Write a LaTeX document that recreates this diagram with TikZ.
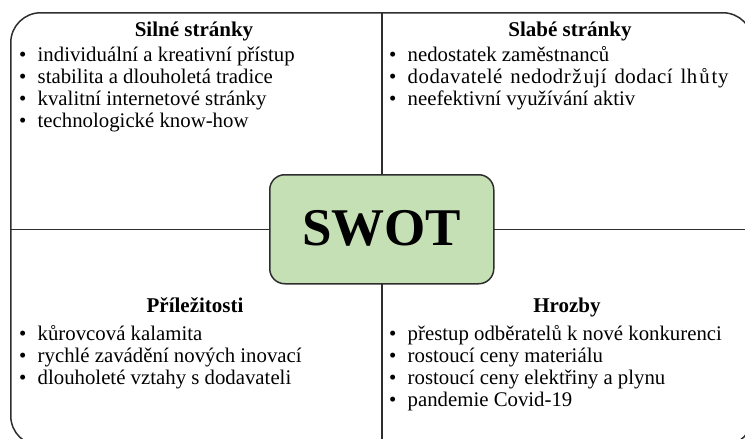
\documentclass[tikz,border=0pt]{standalone}
\usepackage{fontspec}
\setmainfont{Liberation Serif}
\definecolor{linegray}{HTML}{2E2E2E}
\definecolor{swotgreen}{HTML}{C5E0B4}
\newcommand\bulletline[1]{\makebox[18.5pt][l]{•}#1}
\begin{document}
\begin{tikzpicture}[x=1pt,y=-1pt,
  frameline/.style={draw=linegray, line width=1.5pt},
  head/.style={font=\fontsize{21}{22}\selectfont\bfseries, anchor=base, inner sep=0pt},
  item/.style={font=\fontsize{20.8}{22}\selectfont, anchor=base west, inner sep=0pt},
]
\useasboundingbox (0,0) rectangle (745,439);
\clip (0,0) rectangle (745,439);

% outer frame and the two dividers
\node[frameline, rounded corners=30pt, minimum width=742pt, minimum height=433pt,
      inner sep=0pt, anchor=north west] (frame) at (10,12) {};
\draw[frameline] (frame.north) -- (frame.south);
\draw[frameline] (frame.west) -- (frame.east);

% central label
\node[frameline, fill=swotgreen, rounded corners=15pt, minimum width=224pt,
      minimum height=109pt, inner sep=0pt,
      font=\fontsize{53}{60}\selectfont\bfseries] (swot) at (frame.center)
      {\raisebox{3.5pt}{SWOT}};

% strengths
\node[head] (sh) at (194,36) {Silné stránky};
\node[item] (s1) at (19,61)  {\bulletline{individuální a kreativní přístup}};
\node[item] (s2) at (19,83)  {\bulletline{stabilita a dlouholetá tradice}};
\node[item] (s3) at (19,105) {\bulletline{kvalitní internetové stránky}};
\node[item] (s4) at (19,127) {\bulletline{technologické know-how}};

% weaknesses
\node[head] (wh) at (570,36) {Slabé stránky};
\node[item] (w1) at (389,61)  {\bulletline{nedostatek zaměstnanců}};
\node[item] (w2) at (389,83)  {\bulletline{\addfontfeature{LetterSpace=2.5}\spaceskip=8pt
      dodavatelé nedodr\kern1.5pt ž\kern2pt ují dodací lh\kern2pt ů\kern2pt ty}};
\node[item] (w3) at (389,105) {\bulletline{neefektivní využívání aktiv}};

% opportunities
\node[head] (oh) at (195,312) {Příležitosti};
\node[item] (o1) at (19,340) {\bulletline{kůrovcová kalamita}};
\node[item] (o2) at (19,362) {\bulletline{rychlé zavádění nových inovací}};
\node[item] (o3) at (19,384) {\bulletline{dlouholeté vztahy s dodavateli}};

% threats
\node[head] (th) at (567,312) {Hrozby};
\node[item] (t1) at (389,340) {\bulletline{přestup odběratelů k nové konkurenci}};
\node[item] (t2) at (389,362) {\bulletline{rostoucí ceny materiálu}};
\node[item] (t3) at (389,384) {\bulletline{rostoucí ceny elektřiny a plynu}};
\node[item] (t4) at (389,406) {\bulletline{pandemie Covid-19}};
\end{tikzpicture}
\end{document}
